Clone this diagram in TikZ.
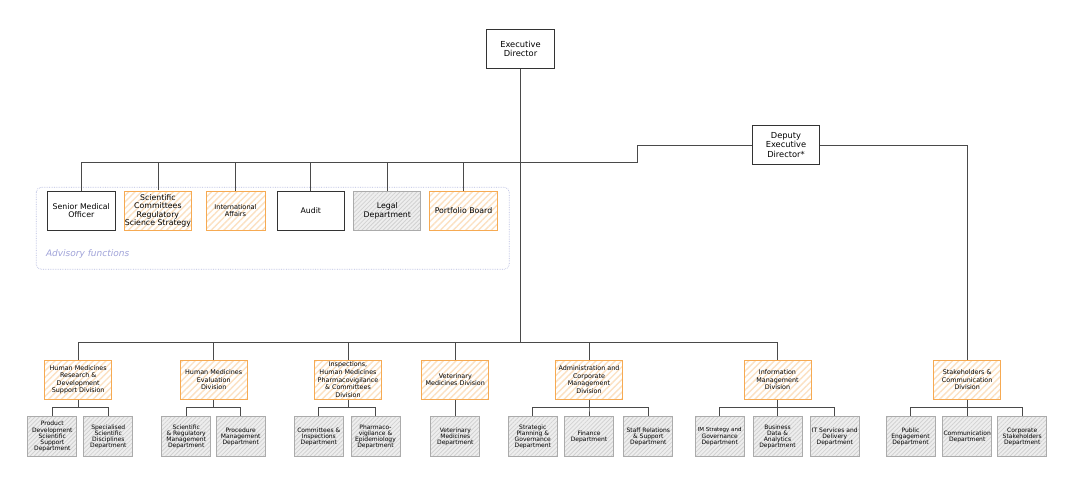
\documentclass[tikz,border=0pt]{standalone}
\usepackage{fontspec}
\setmainfont{DejaVu Sans}
\usetikzlibrary{patterns.meta}
\definecolor{linegray}{HTML}{4A4A4A}
\definecolor{hatchorange}{HTML}{F6AA52}
\definecolor{stripeorange}{HTML}{FCE1C2}
\definecolor{hatchgray}{HTML}{ABABAB}
\definecolor{stripegray}{HTML}{D2D2D2}
\definecolor{fillgray}{HTML}{EEEEEE}
\definecolor{advblue}{HTML}{B4BADF}
\definecolor{advtext}{HTML}{9FA2D8}

\begin{document}
\begin{tikzpicture}
  [x=1pt,y=-1pt,
   conn/.style={draw=linegray,line width=0.8pt},
   boxbase/.style={align=center,inner sep=0pt,text=black,minimum width=67pt,minimum height=39.5pt},
   plainbox/.style={boxbase,draw=black!80,line width=0.8pt,fill=white},
   orangebox/.style={boxbase,draw=hatchorange,line width=0.9pt,preaction={fill=white},
     pattern={Lines[angle=45,distance=4.5pt,line width=1.4pt]},pattern color=stripeorange},
   graybox/.style={boxbase,draw=hatchgray,line width=1pt,preaction={fill=fillgray},
     pattern={Lines[angle=45,distance=3pt,line width=0.8pt]},pattern color=stripegray},
   topfont/.style={font=\fontsize{8.3}{9.4}\selectfont},
   advfont/.style={font=\fontsize{7.8}{8.3}\selectfont},
   divfont/.style={font=\fontsize{6.4}{7.6}\selectfont},
   deptfont/.style={font=\fontsize{6}{6.2}\selectfont},
   divbox/.style={orangebox,divfont,minimum height=39.3pt},
   deptbox/.style={graybox,deptfont,minimum width=49pt,minimum height=40pt},
   advframe/.style={draw=advblue,densely dotted,line width=0.7pt,rounded corners=5pt}]
  \useasboundingbox (0,0) rectangle (1080,486);

  % advisory frame
  \draw[advframe] (36.2,187.3) rectangle (509.3,269.3);
  \node[anchor=west,text=advtext,font=\fontsize{9}{10}\selectfont\itshape] (advlbl) at (42.5,254) {Advisory functions};

  % top level
  \node[plainbox,topfont,minimum width=68pt] (ed) at (520.5,49) {Executive\\Director};
  \node[plainbox,topfont] (dep) at (786,145) {Deputy\\Executive\\Director*};
  \coordinate (top) at (520.5,162);
  \coordinate (step) at (637,162);
  \coordinate (bus) at (520.5,342);

  % advisory functions
  \node[plainbox,advfont,minimum width=67.5pt] (smo) at (81.3,210.8) {Senior Medical\\Officer};
  \node[orangebox,advfont] (sci) at (157.9,210.8) {Scientific\\Committees\\Regulatory\\Science Strategy};
  \node[orangebox,font=\fontsize{6.6}{7.4}\selectfont,minimum width=59pt] (intl) at (235.5,210.8) {International\\Affairs};
  \node[plainbox,advfont] (aud) at (310.8,210.8) {Audit};
  \node[graybox,advfont] (leg) at (387.3,210.8) {Legal\\Department};
  \node[orangebox,advfont,minimum width=68pt] (pfb) at (463.5,210.8) {Portfolio Board};

  % divisions
  \node[divbox] (hmrd) at (78.2,379.7) {Human Medicines\\Research \&\\Development\\Support Division};
  \node[divbox] (hme) at (213.7,379.7) {Human Medicines\\Evaluation\\Division};
  \node[divbox] (ins) at (348,379.7) {Inspections,\\Human Medicines\\Pharmacovigilance\\\& Committees\\Division};
  \node[divbox] (vet) at (455.3,379.7) {Veterinary\\Medicines Division};
  \node[divbox] (adm) at (589,379.7) {Administration and\\Corporate\\Management\\Division};
  \node[divbox] (imd) at (777.5,379.7) {Information\\Management\\Division};
  \node[divbox] (stk) at (967.2,379.7) {Stakeholders \&\\Communication\\Division};

  % departments
  \node[deptbox] (hmrdA) at (52.3,436.7) {Product\\Development\\Scientific\\Support\\Department};
  \node[deptbox] (hmrdB) at (108.3,436.7) {Specialised\\Scientific\\Disciplines\\Department};
  \node[deptbox] (hmeA) at (186.2,436.7) {Scientific\\\& Regulatory\\Management\\Department};
  \node[deptbox] (hmeB) at (240.7,436.7) {Procedure\\Management\\Department};
  \node[deptbox] (insA) at (318.8,436.7) {Committees \&\\Inspections\\Department};
  \node[deptbox] (insB) at (375.5,436.7) {Pharmaco-\\vigilance \&\\Epidemiology\\Department};
  \node[deptbox] (vetA) at (455.3,436.7) {Veterinary\\Medicines\\Department};
  \node[deptbox] (admA) at (532.8,437) {Strategic\\Planning \&\\Governance\\Department};
  \node[deptbox] (admB) at (589,437) {Finance\\Department};
  \node[deptbox] (admC) at (648.3,437) {Staff Relations\\\& Support\\Department};
  \node[deptbox] (imdA) at (719.7,436.7) {{\fontsize{5.5}{6.2}\selectfont IM Strategy and}\\Governance\\Department};
  \node[deptbox] (imdB) at (777.5,436.7) {Business\\Data \&\\Analytics\\Department};
  \node[deptbox] (imdC) at (834.8,436.7) {IT Services and\\Delivery\\Department};
  \node[deptbox] (stkA) at (910.5,437) {Public\\Engagement\\Department};
  \node[deptbox] (stkB) at (967.2,437) {Communication\\Department};
  \node[deptbox] (stkC) at (1022.2,437) {Corporate\\Stakeholders\\Department};

  % connectors
  \draw[conn] (ed.south) -- (bus);
  \foreach \a in {smo,sci,intl,aud,leg,pfb}
    \draw[conn] (\a.north) |- (top);
  \draw[conn] (top) -- (step) |- (dep.west);
  \draw[conn] (dep.east) -| (stk.north);
  \foreach \d in {hmrd,hme,ins,vet,adm,imd}
    \draw[conn] (\d.north) |- (bus);
  \foreach \d/\s in {hmrd/hmrdA,hmrd/hmrdB,hme/hmeA,hme/hmeB,ins/insA,ins/insB,vet/vetA,
      adm/admA,adm/admB,adm/admC,imd/imdA,imd/imdB,imd/imdC,stk/stkA,stk/stkB,stk/stkC}
    \draw[conn] (\d.south) -- ++(0,7.7) -| (\s.north);
\end{tikzpicture}
\end{document}
